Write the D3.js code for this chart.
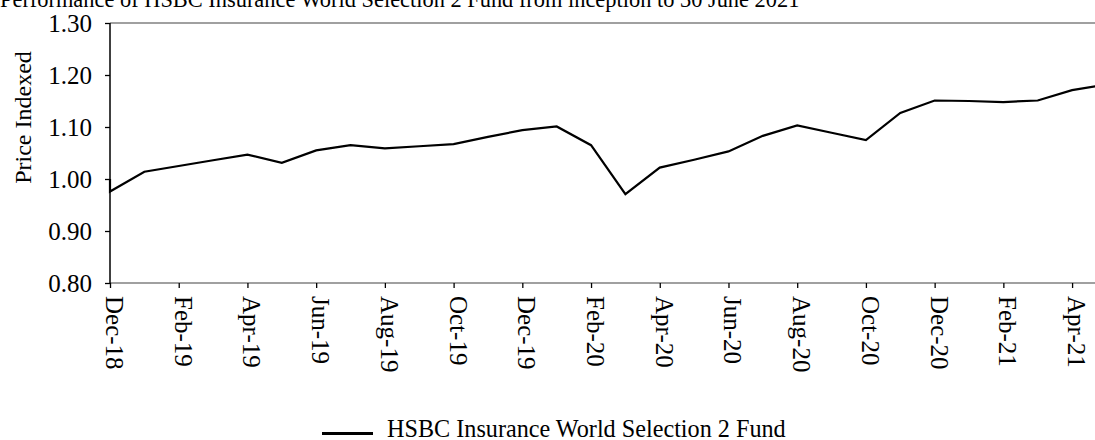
<!DOCTYPE html>
<html>
<head>
<meta charset="utf-8">
<script src="https://cdn.jsdelivr.net/npm/d3@7"></script>
<style>
  html, body { margin: 0; padding: 0; background: #fff; }
  svg { display: block; }
  text { font-family: "Liberation Serif", "Times New Roman", serif; fill: #000; }
</style>
</head>
<body>
<svg id="chart" width="1095" height="440"></svg>
<script>
// ---- data ----
const titleText = "Performance of HSBC Insurance World Selection 2 Fund from inception to 30 June 2021";
const yAxisTitle = "Price Indexed";
const seriesName = "HSBC Insurance World Selection 2 Fund";
const months = ["Dec-18","Dec-18","Jan-19","Feb-19","Mar-19","Apr-19","May-19","Jun-19","Jul-19","Aug-19","Sep-19","Oct-19","Nov-19","Dec-19",
                "Jan-20","Feb-20","Mar-20","Apr-20","May-20","Jun-20","Jul-20","Aug-20","Sep-20","Oct-20","Nov-20","Dec-20",
                "Jan-21","Feb-21","Mar-21","Apr-21","May-21"];
const values = [1.000,0.976,1.014,1.025,1.036,1.047,1.031,1.055,1.065,1.059,1.063,1.067,1.081,1.094,
                1.101,1.065,0.971,1.022,1.037,1.053,1.083,1.103,1.089,1.075,1.127,1.151,
                1.150,1.148,1.151,1.171,1.182];
const xTickLabels = ["Dec-18","Feb-19","Apr-19","Jun-19","Aug-19","Oct-19","Dec-19","Feb-20","Apr-20","Jun-20","Aug-20","Oct-20","Dec-20","Feb-21","Apr-21"];
const yTicks = [0.80,0.90,1.00,1.10,1.20,1.30];

// month label -> index from first month
const monNames = ["Jan","Feb","Mar","Apr","May","Jun","Jul","Aug","Sep","Oct","Nov","Dec"];
function monthNum(lbl) {
  const [m, yy] = lbl.split("-");
  return (2000 + +yy) * 12 + monNames.indexOf(m);
}
const baseMonth = monthNum(months[0]);
const idx = lbl => monthNum(lbl) - baseMonth;

const svg = d3.select("#chart");
const plotLeft = 110, plotTop = 23, plotBottom = 283, pxPerMonth = 34.36;
const x = d3.scaleLinear().domain([0, 29]).range([plotLeft, plotLeft + 29 * pxPerMonth]);
const y = d3.scaleLinear().domain([0.8, 1.3]).range([plotBottom, plotTop]);

// title (partly cut off at top, as in the reference)
svg.append("text").attr("x", 0).attr("y", 7).attr("font-size", 22.4).text(titleText);

// top border line
svg.append("line").attr("x1", plotLeft).attr("x2", 1095).attr("y1", y(1.3)).attr("y2", y(1.3))
  .attr("stroke", "#808080").attr("stroke-width", 1.5);

// x axis
const xAxis = svg.append("g").attr("transform", `translate(0,${plotBottom})`)
  .call(d3.axisBottom(x).tickValues(xTickLabels.map(idx)).tickSize(5).tickFormat((d, i) => xTickLabels[i]));
xAxis.select(".domain").attr("stroke", "#808080").attr("stroke-width", 1.5).attr("d", `M${plotLeft},0H1095`);
xAxis.selectAll(".tick line").attr("stroke", "#000").attr("stroke-width", 1.3);
xAxis.selectAll(".tick text")
  .attr("font-size", 25).attr("font-family", "Liberation Serif, serif").attr("fill", "#000")
  .attr("text-anchor", "start")
  .attr("transform", "rotate(90)")
  .attr("x", 13).attr("y", 0).attr("dy", "0.18em");

// y axis
const yAxis = svg.append("g").attr("transform", `translate(${plotLeft},0)`)
  .call(d3.axisLeft(y).tickValues(yTicks).tickSize(5).tickPadding(13).tickFormat(d3.format(".2f")));
yAxis.select(".domain").attr("stroke", "#000").attr("stroke-width", 1.5).attr("d", `M0,${plotBottom}V${plotTop}`);
yAxis.selectAll(".tick line").attr("stroke", "#000").attr("stroke-width", 1.3);
yAxis.selectAll(".tick text").attr("font-size", 25).attr("font-family", "Liberation Serif, serif").attr("fill", "#000");

// y axis title
svg.append("text").attr("transform", "translate(31,117.5) rotate(-90)")
  .attr("text-anchor", "middle").attr("font-size", 24).text(yAxisTitle);

// line
const line = d3.line().x((d, i) => x(idx(months[i]))).y(d => y(d));
svg.append("path").datum(values).attr("d", line)
  .attr("fill", "none").attr("stroke", "#000").attr("stroke-width", 2.2).attr("stroke-linejoin", "miter");

// legend
svg.append("line").attr("x1", 322).attr("x2", 373).attr("y1", 433.5).attr("y2", 433.5)
  .attr("stroke", "#000").attr("stroke-width", 3);
svg.append("text").attr("x", 387).attr("y", 437).attr("font-size", 24.2).text(seriesName);
</script>
</body>
</html>
